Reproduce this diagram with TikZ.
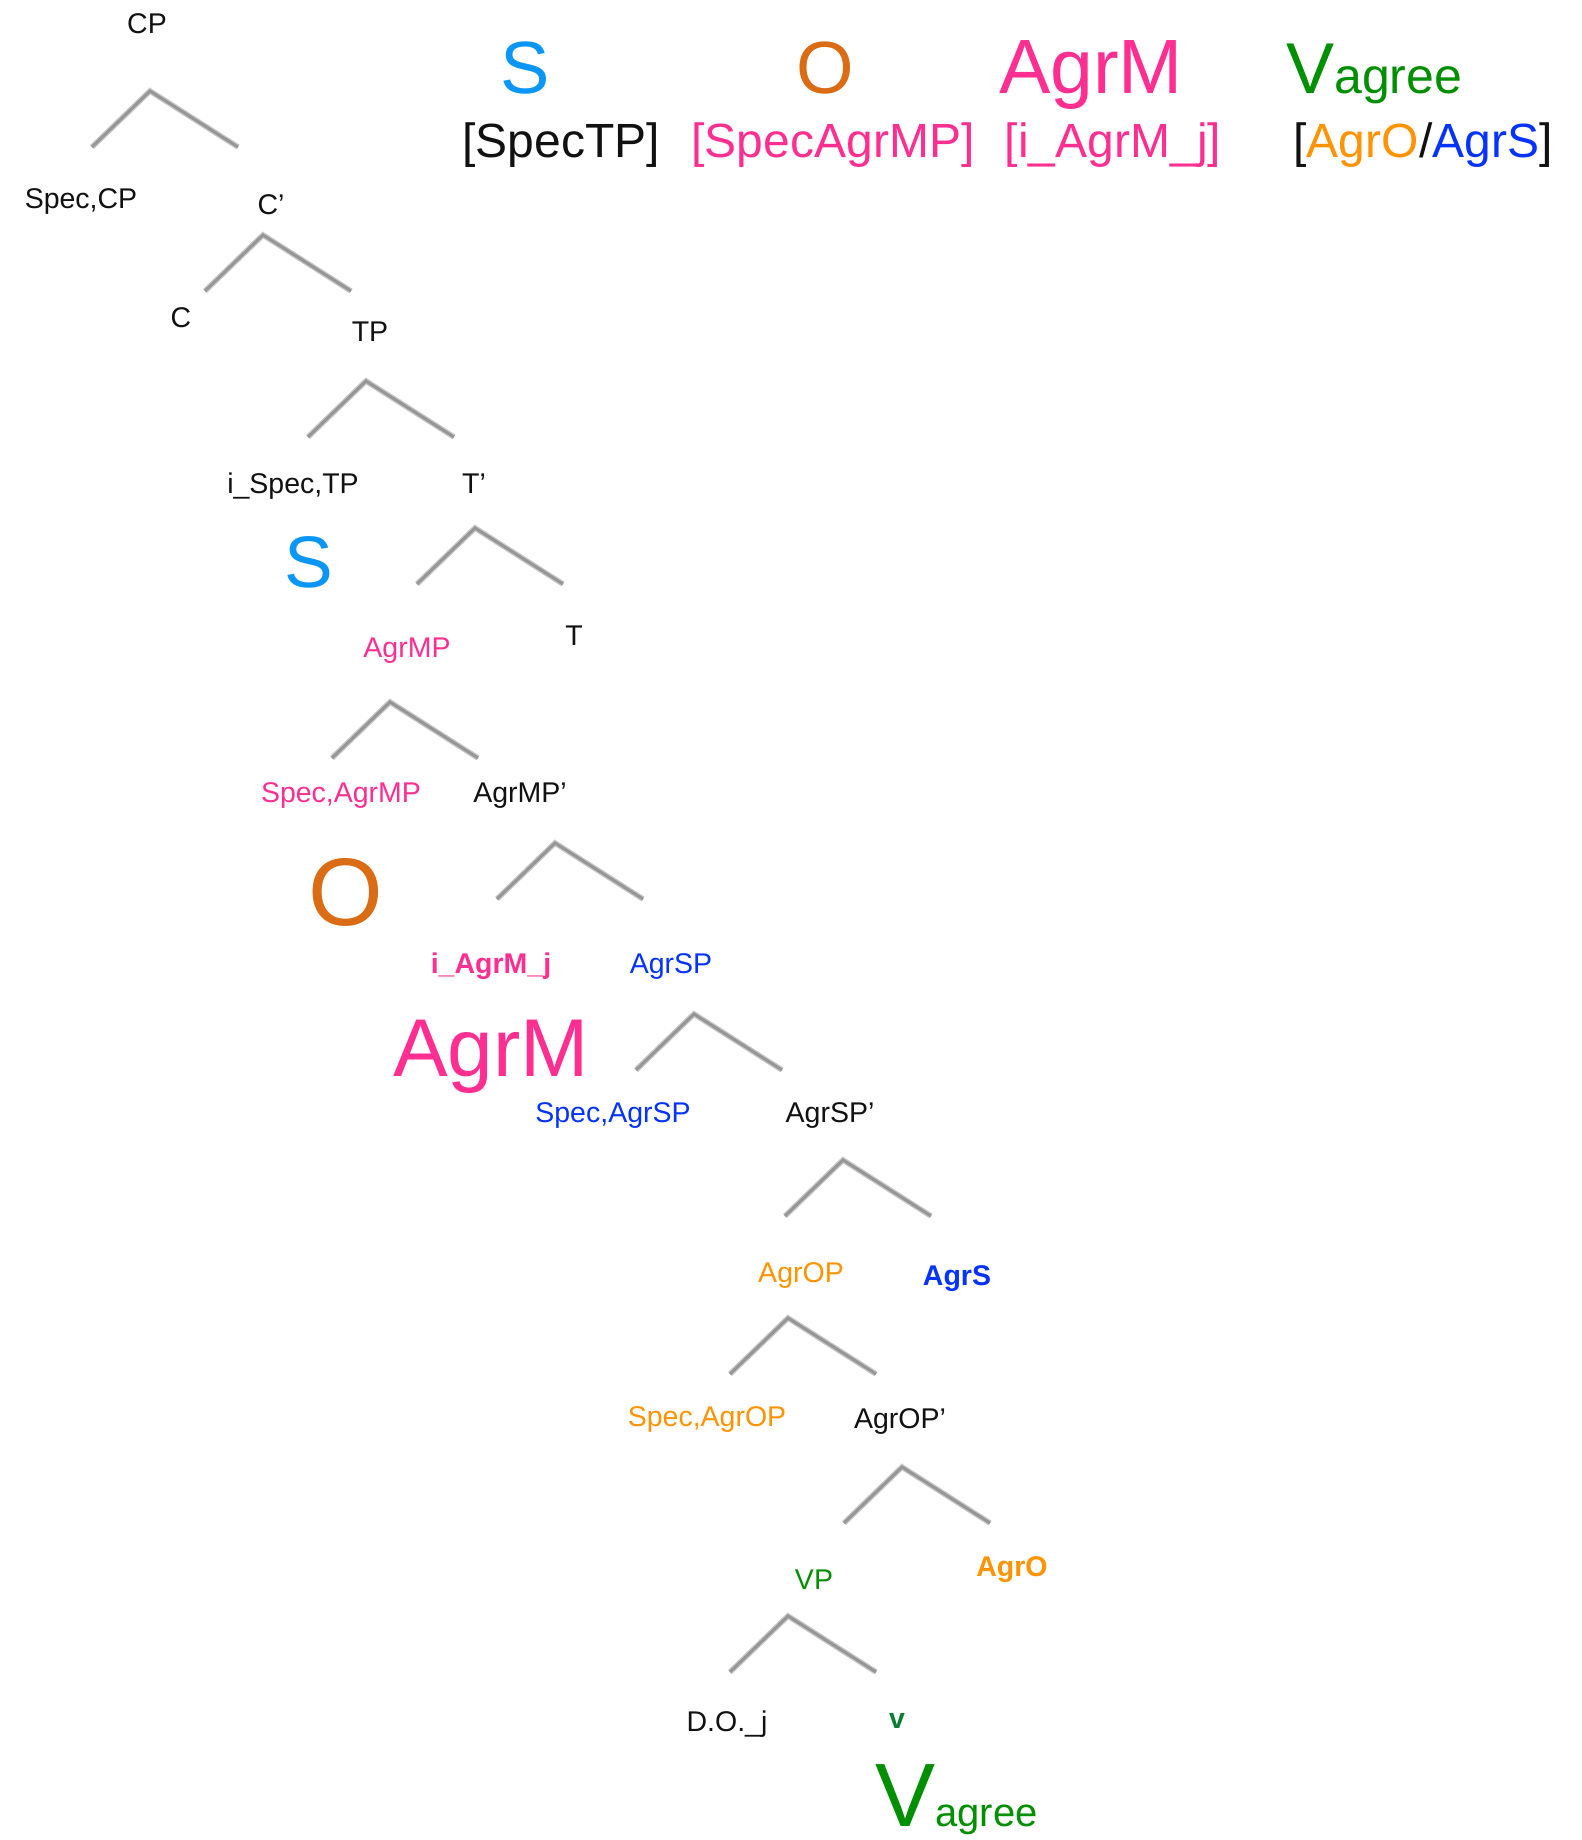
\documentclass[tikz,border=0pt]{standalone}
\usepackage{fontspec}
\setmainfont{Liberation Sans}

\definecolor{aqua}{HTML}{0A96F6}
\definecolor{ochre}{HTML}{D96C14}
\definecolor{strawberry}{HTML}{FF2F92}
\definecolor{clover}{HTML}{008F00}
\definecolor{vgreen}{HTML}{0A7D32}
\definecolor{tangerine}{HTML}{FF9300}
\definecolor{blueberry}{HTML}{0433FF}
\definecolor{ink}{HTML}{111111}

\begin{document}
\begin{tikzpicture}[x=1pt, y=-1pt,
  halo/.style={line width=5.6pt, draw=gray!42, line join=miter},
  branch/.style={line width=3pt, draw=gray!82, line join=miter},
  lbl/.style={anchor=base, inner sep=0pt, text=ink, font=\fontsize{28.5}{32}\selectfont},
  blbl/.style={lbl, font=\fontsize{28.5}{32}\selectfont\bfseries},
  big/.style={anchor=base, inner sep=0pt, text=ink, font=\fontsize{#1}{#1}\selectfont},
]
\fill[white] (0,0) rectangle (1582,1840);
\useasboundingbox (0,0) rectangle (1582,1840);

% ---- legend along the top ----
\node[big=74, text=aqua] (hS) at (525,93) {S};
\node[big=74, text=ochre] (hO) at (825,93) {O};
\node[big=77, text=strawberry] (hAgrM) at (1091,93) {AgrM};
\node[big=72, text=clover, anchor=base west] (hV) at (1286,93)
  {V{\fontsize{50}{50}\selectfont agree}};
\node[big=48] (hSpecTP) at (561,157) {[SpecTP]};
\node[big=48, text=strawberry] (hSpecAgrMP) at (833,157) {[SpecAgrMP]};
\node[big=48, text=strawberry] (hHead) at (1113,157) {[i\_AgrM\_j]};
\node[big=48] (hAgrOS) at (1423,157)
  {[\textcolor{tangerine}{AgrO}/\textcolor{blueberry}{AgrS}]};

% ---- branching carets (apex, left foot, right foot) ----
\foreach \n/\x/\y in {cp/150/91, cbar/263/235, tp/366/381, tbar/475/528,
    agrmp/390/702, agrmpbar/555/843, agrsp/694/1014, agrspbar/843/1160,
    agrop/788/1318, agropbar/902/1467, vp/788/1616} {
  \coordinate (\n-top) at (\x,\y);
  \coordinate (\n-l) at ([shift={(-58,56)}]\n-top);
  \coordinate (\n-r) at ([shift={(88,56)}]\n-top);
  \draw[halo] (\n-l) -- (\n-top) -- (\n-r);
  \draw[branch] (\n-l) -- (\n-top) -- (\n-r);
}

% ---- tree labels ----
\node[lbl] (CP) at (147,33) {CP};
\node[lbl] (SpecCP) at (81,208) {Spec,CP};
\node[lbl] (Cbar) at (271,214) {C’};
\node[lbl] (C) at (181,327) {C};
\node[lbl] (TP) at (370,341) {TP};
\node[lbl] (SpecTP) at (293,493) {i\_Spec,TP};
\node[lbl] (Tbar) at (474,493) {T’};
\node[big=73, text=aqua] (S) at (309,587) {S};
\node[lbl, text=strawberry] (AgrMP) at (407,657) {AgrMP};
\node[lbl] (T) at (574,645) {T};
\node[lbl, text=strawberry] (SpecAgrMP) at (341,802) {Spec,AgrMP};
\node[lbl] (AgrMPbar) at (520,802) {AgrMP’};
\node[big=96, text=ochre] (O) at (346,925) {O};
\node[blbl, text=strawberry] (AgrMhead) at (491,973) {i\_AgrM\_j};
\node[lbl, text=blueberry] (AgrSP) at (671,973) {AgrSP};
\node[big=82, text=strawberry] (AgrM) at (491,1076) {AgrM};
\node[lbl, text=blueberry] (SpecAgrSP) at (613,1122) {Spec,AgrSP};
\node[lbl] (AgrSPbar) at (830,1122) {AgrSP’};
\node[lbl, text=tangerine] (AgrOP) at (801,1282) {AgrOP};
\node[blbl, text=blueberry] (AgrS) at (957,1285) {AgrS};
\node[lbl, text=tangerine] (SpecAgrOP) at (707,1426) {Spec,AgrOP};
\node[lbl] (AgrOPbar) at (900,1428) {AgrOP’};
\node[lbl, text=clover] (VP) at (814,1589) {VP};
\node[blbl, text=tangerine] (AgrO) at (1012,1576) {AgrO};
\node[lbl] (DO) at (727,1731) {D.O.\_j};
\node[blbl, text=vgreen] (v) at (897,1728) {v};
\node[big=90, text=clover, anchor=base west] (Vagree) at (875,1826)
  {V{\fontsize{40}{40}\selectfont agree}};
\end{tikzpicture}
\end{document}
